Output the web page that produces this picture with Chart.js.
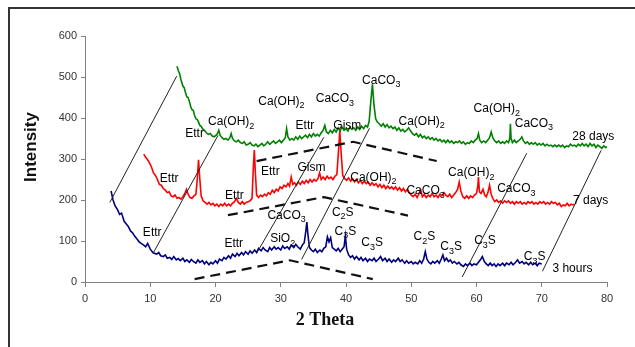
<!DOCTYPE html>
<html>
<head>
<meta charset="utf-8">
<script src="https://cdn.jsdelivr.net/npm/chart.js@4/dist/chart.umd.min.js"></script>
<style>
    html, body { margin: 0; padding: 0; background: #fff; }
    #wrap { position: relative; width: 635px; height: 347px; }
</style>
</head>
<body>
<div id="wrap"><canvas id="xrd" width="635" height="347"></canvas></div>
<script>
// Ось X (2 Theta) и ось Y (Intensity)
const xTicks = [0, 10, 20, 30, 40, 50, 60, 70, 80];
const yTicks = [0, 100, 200, 300, 400, 500, 600];

// Дифрактограммы: [2θ, интенсивность]
const hours3 = [
    [4,222],[4.3,200],[4.6,186],[5,176],[5.3,165],[5.6,168],[6,148],[6.3,142],[6.6,136],[7,124],[7.3,120],[7.6,112],
    [8,104],[8.3,98],[8.6,94],[9,90],[9.3,86],[9.6,94],[10,80],[10.3,74],[10.6,70],[11,68],[11.3,72],[11.6,64],
    [12,62],[12.3,66],[12.6,58],[13,60],[13.3,55],[13.6,62],[14,54],[14.3,57],[14.6,52],[15,58],[15.3,50],[15.6,54],
    [16,48],[16.3,55],[16.6,50],[17,46],[17.3,54],[17.6,48],[18,52],[18.3,44],[18.6,50],[19,42],[19.3,48],[19.6,44],
    [20,52],[20.3,46],[20.6,56],[21,52],[21.3,60],[21.6,56],[22,64],[22.3,58],[22.6,68],[23,62],[23.3,70],[23.6,64],
    [24,72],[24.3,66],[24.6,74],[25,68],[25.3,76],[25.6,70],[26,78],[26.3,72],[26.6,82],[27,76],[27.3,84],[27.6,78],
    [28,74],[28.3,84],[28.6,78],[29,86],[29.3,80],[29.6,84],[30,78],[30.3,88],[30.6,82],[31,86],[31.3,80],[31.6,90],
    [32,84],[32.3,92],[32.6,86],[33,80],[33.3,90],[33.6,96],[33.85,125],[34,146],[34.15,118],[34.4,84],[34.7,78],
    [35,74],[35.3,80],[35.6,72],[36,78],[36.3,74],[36.6,82],[36.9,86],[37.15,110],[37.4,98],[37.65,108],[37.9,84],
    [38.2,80],[38.5,76],[38.8,82],[39.1,74],[39.4,80],[39.7,86],[39.9,112],[40.1,80],[40.4,66],[40.7,60],[41,64],
    [41.3,56],[41.6,62],[42,54],[42.3,60],[42.6,52],[43,58],[43.3,50],[43.6,56],[44,52],[44.3,58],[44.6,50],[45,56],
    [45.3,62],[45.6,52],[46,58],[46.3,50],[46.6,56],[47,48],[47.3,54],[47.6,50],[48,58],[48.3,50],[48.6,54],[49,46],
    [49.3,52],[49.6,46],[50,50],[50.3,44],[50.6,48],[51,44],[51.3,52],[51.6,46],[51.9,56],[52.15,74],[52.4,56],
    [52.7,48],[53,44],[53.3,50],[53.6,46],[54,52],[54.3,46],[54.6,56],[54.85,66],[55.1,52],[55.4,58],[55.7,50],
    [56,54],[56.3,46],[56.6,50],[57,44],[57.3,48],[57.6,42],[58,38],[58.3,44],[58.6,40],[59,46],[59.3,40],[59.6,44],
    [60,42],[60.3,48],[60.6,54],[60.9,62],[61.2,50],[61.5,44],[61.8,40],[62.1,46],[62.4,40],[62.7,44],[63,38],
    [63.3,44],[63.6,40],[64,46],[64.3,40],[64.6,46],[65,42],[65.3,48],[65.6,42],[66,48],[66.3,54],[66.6,46],[67,50],
    [67.3,44],[67.6,48],[68,42],[68.3,48],[68.6,42],[69,46],[69.3,40],[69.6,46],[70,44]
];
const days7 = [
    [9,312],[9.3,304],[9.6,298],[9.9,290],[10.2,280],[10.5,266],[10.8,260],[11.1,250],[11.4,238],[11.7,236],[12,228],
    [12.3,224],[12.6,218],[12.9,220],[13.2,210],[13.5,208],[13.8,212],[14.1,204],[14.4,206],[14.7,202],[15,208],
    [15.3,216],[15.55,226],[15.8,214],[16.1,206],[16.4,204],[16.7,210],[17,214],[17.2,250],[17.4,298],[17.6,250],
    [17.8,210],[18.1,198],[18.4,194],[18.7,190],[19,194],[19.3,188],[19.6,192],[19.9,186],[20.2,190],[20.5,184],
    [20.8,190],[21.1,186],[21.4,192],[21.7,186],[22,190],[22.3,186],[22.6,192],[22.9,196],[23.2,204],[23.5,194],
    [23.8,190],[24.1,196],[24.4,190],[24.7,194],[25,196],[25.3,198],[25.6,204],[25.8,280],[25.95,322],[26.1,270],
    [26.3,212],[26.6,206],[26.9,212],[27.2,208],[27.5,214],[27.8,210],[28.1,218],[28.4,214],[28.7,224],[29,218],
    [29.3,226],[29.6,222],[29.9,232],[30.2,228],[30.5,236],[30.8,232],[31.1,240],[31.35,234],[31.6,256],[31.85,238],
    [32.1,242],[32.4,236],[32.7,244],[33,238],[33.3,246],[33.6,240],[33.9,248],[34.2,242],[34.5,250],[34.8,244],
    [35.1,250],[35.4,246],[35.7,252],[35.95,266],[36.2,250],[36.5,256],[36.8,250],[37.1,258],[37.4,252],[37.7,256],
    [38,250],[38.3,258],[38.6,262],[38.85,320],[39.05,368],[39.25,316],[39.5,260],[39.8,252],[40.1,248],[40.4,254],
    [40.7,246],[41,252],[41.3,244],[41.6,250],[41.9,242],[42.2,248],[42.5,240],[42.8,246],[43.1,240],[43.4,244],
    [43.7,236],[44,242],[44.3,236],[44.6,240],[44.9,232],[45.2,238],[45.5,230],[45.8,236],[46.1,228],[46.4,234],
    [46.7,228],[47,232],[47.3,226],[47.6,232],[47.9,224],[48.2,230],[48.5,222],[48.8,228],[49.1,220],[49.4,226],
    [49.7,218],[50,212],[50.3,208],[50.6,214],[50.9,206],[51.2,216],[51.45,224],[51.7,208],[52,214],[52.3,206],
    [52.6,212],[52.9,208],[53.2,216],[53.5,208],[53.8,212],[54.1,206],[54.4,214],[54.7,210],[55,218],[55.3,212],
    [55.6,208],[55.9,214],[56.2,206],[56.5,212],[56.8,218],[57.1,226],[57.35,244],[57.6,222],[57.9,208],[58.2,204],
    [58.5,210],[58.8,204],[59.1,210],[59.4,206],[59.7,212],[60,216],[60.2,234],[60.3,256],[60.45,220],[60.7,216],
    [61,226],[61.25,212],[61.5,208],[61.75,218],[62,236],[62.25,214],[62.5,204],[62.8,196],[63.1,200],[63.4,194],
    [63.7,198],[64,192],[64.3,198],[64.6,194],[64.9,198],[65.2,192],[65.5,196],[65.8,190],[66.1,196],[66.4,192],
    [66.7,196],[67,190],[67.3,194],[67.6,190],[67.9,196],[68.2,192],[68.5,196],[68.8,190],[69.1,194],[69.4,190],
    [69.7,196],[70,192],[70.3,196],[70.6,190],[70.9,194],[71.2,190],[71.5,196],[71.8,192],[72.1,194],[72.4,188],
    [72.7,192],[73,184],[73.3,188],[73.6,186],[73.9,192],[74.2,186],[74.5,190],[74.8,188],[75,190]
];
const days28 = [
    [14.1,526],[14.3,516],[14.5,508],[14.7,494],[15,478],[15.2,474],[15.4,462],[15.6,452],[15.8,450],[16,440],
    [16.2,428],[16.4,420],[16.6,418],[16.8,406],[17,398],[17.2,396],[17.4,390],[17.6,382],[17.8,380],[18,374],
    [18.3,370],[18.6,364],[18.9,360],[19.2,362],[19.5,356],[19.8,354],[20.1,358],[20.3,362],[20.5,370],[20.7,358],
    [21,352],[21.3,348],[21.6,350],[21.9,346],[22.2,352],[22.4,362],[22.6,350],[22.9,344],[23.2,342],[23.5,346],
    [23.8,340],[24.1,338],[24.4,342],[24.7,334],[25,336],[25.3,340],[25.6,334],[25.9,332],[26.2,336],[26.5,330],
    [26.8,334],[27.1,338],[27.4,332],[27.7,336],[28,342],[28.3,336],[28.6,340],[28.9,344],[29.2,338],[29.5,342],
    [29.8,346],[30.1,340],[30.4,346],[30.7,352],[30.9,374],[31.1,354],[31.4,346],[31.7,350],[32,346],[32.3,354],
    [32.6,348],[32.9,356],[33.2,350],[33.5,354],[33.8,358],[34.1,352],[34.4,360],[34.7,354],[35,362],[35.3,356],
    [35.6,360],[35.9,356],[36.2,364],[36.5,370],[36.75,382],[37,366],[37.3,362],[37.6,370],[37.9,364],[38.2,372],
    [38.5,366],[38.8,376],[39.1,368],[39.4,378],[39.7,370],[40,374],[40.3,368],[40.6,378],[40.9,372],[41.2,376],
    [41.5,370],[41.8,378],[42.1,372],[42.4,380],[42.7,374],[43,382],[43.3,378],[43.55,392],[43.8,440],[44.05,482],
    [44.3,430],[44.55,398],[44.8,390],[45.1,386],[45.4,380],[45.7,386],[46,378],[46.3,384],[46.6,376],[46.9,380],
    [47.2,374],[47.5,378],[47.8,370],[48.1,376],[48.4,368],[48.7,372],[49,366],[49.3,370],[49.6,376],[49.9,368],
    [50.2,362],[50.5,358],[50.8,362],[51.1,354],[51.4,360],[51.7,352],[52,356],[52.3,350],[52.6,354],[52.9,348],
    [53.2,352],[53.5,346],[53.8,350],[54.1,344],[54.4,348],[54.7,342],[55,346],[55.3,340],[55.6,346],[55.9,340],
    [56.2,344],[56.5,338],[56.8,342],[57.1,340],[57.4,344],[57.7,338],[58,342],[58.3,336],[58.6,340],[58.9,338],
    [59.2,344],[59.5,340],[59.8,346],[60.1,350],[60.3,362],[60.5,346],[60.8,340],[61.1,344],[61.4,340],[61.7,346],
    [62,352],[62.25,366],[62.5,352],[62.8,344],[63.1,340],[63.4,344],[63.7,338],[64,342],[64.3,338],[64.6,344],
    [64.9,340],[65.1,350],[65.2,386],[65.3,350],[65.5,340],[65.8,346],[66.1,340],[66.4,344],[66.7,348],[66.95,354],
    [67.2,344],[67.5,338],[67.8,342],[68.1,336],[68.4,340],[68.7,336],[69,340],[69.3,334],[69.6,338],[69.9,334],
    [70.2,338],[70.5,332],[70.8,336],[71.1,332],[71.4,334],[71.7,330],[72,334],[72.3,330],[72.6,334],[72.9,330],
    [73.2,334],[73.5,328],[73.8,332],[74.1,330],[74.4,336],[74.7,332],[75,334],[75.3,330],[75.6,336],[75.9,332],
    [76.2,338],[76.5,332],[76.8,336],[77.1,330],[77.4,338],[77.7,332],[78,336],[78.3,328],[78.6,334],[78.9,330],
    [79.2,326],[79.5,332],[79.8,328],[80,330]
];

// Тонкие наклонные линии, связывающие пики разных сроков (в координатах данных)
const guideLines = [
    [[3.8, 194], [14.05, 502]],
    [[10.4, 69], [20.4, 358]],
    [[26.3, 70], [36.6, 353]],
    [[33.2, 55], [43.6, 375]],
    [[57.8, 12], [67.7, 314]],
    [[70.1, 26], [79.1, 321]]
];
// Пунктирные «крыши» под каждой кривой
const dashLines = [
    [[16.8, 7], [31.4, 53], [44.1, 7]],
    [[21.9, 163], [36.6, 207], [49.5, 162]],
    [[26.3, 295], [41.1, 342], [53.9, 295]]
];

// Подписи фаз: текст ('_' = нижний индекс), 2θ, интенсивность (центр подписи)
const phaseText = [
    'Ettr', 'Ca(OH)_2', 'Ca(OH)_2', 'Ettr', 'CaCO_3', 'Gism', 'CaCO_3', 'Ca(OH)_2', 'Ca(OH)_2', 'CaCO_3', '28 days',
    'Ettr', 'Ettr', 'Ettr', 'Gism', 'Ca(OH)_2', 'CaCO_3', 'Ca(OH)_2', 'CaCO_3', '7 days',
    'Ettr', 'Ettr', 'CaCO_3', 'SiO_2', 'C_2S', 'C_3S', 'C_3S', 'C_2S', 'C_3S', 'C_3S', 'C_3S', '3 hours'
];
const phaseX = [
    16.8, 22.4, 30.1, 33.7, 38.3, 40.2, 45.4, 51.6, 63.1, 68.8, 77.9,
    12.9, 22.9, 28.4, 34.7, 44.2, 52.2, 59.2, 66.1, 77.5,
    10.3, 22.8, 30.9, 30.3, 39.5, 39.9, 44.0, 52.0, 56.1, 61.3, 68.9, 74.7
];
const phaseY = [
    364, 393, 443, 384, 449, 384, 494, 394, 425, 389, 356,
    255, 213, 272, 282, 258, 224, 269, 230, 201,
    122, 96, 165, 108, 172, 126, 98, 112, 88, 102, 63, 36
];

function toPoints(rows) {
    return rows.map((r) => ({ x: r[0], y: r[1] }));
}

function drawChem(ctx, label, cx, cy) {
    const parts = [];
    for (let i = 0; i < label.length; i++) {
        if (label[i] === '_') { parts.push({ t: label[i + 1], sub: true }); i++; }
        else parts.push({ t: label[i], sub: false });
    }
    const mainFont = '12px "Liberation Sans", Arial, sans-serif';
    const subFont = '9px "Liberation Sans", Arial, sans-serif';
    let total = 0;
    parts.forEach((p) => {
        ctx.font = p.sub ? subFont : mainFont;
        p.w = ctx.measureText(p.t).width;
        total += p.w;
    });
    let x = cx - total / 2;
    const base = cy + 4.3;
    ctx.textAlign = 'left';
    ctx.textBaseline = 'alphabetic';
    parts.forEach((p) => {
        ctx.font = p.sub ? subFont : mainFont;
        ctx.fillText(p.t, x, p.sub ? base + 3.5 : base);
        x += p.w;
    });
}

const annotations = {
    id: 'annotations',
    afterDatasetsDraw(chart) {
        const ctx = chart.ctx;
        const xs = chart.scales.x, ys = chart.scales.y;
        ctx.save();
        ctx.fillStyle = '#000';
        phaseText.forEach((t, i) => {
            drawChem(ctx, t, xs.getPixelForValue(phaseX[i]), ys.getPixelForValue(phaseY[i]));
        });
        ctx.restore();
    },
    afterDraw(chart) {
        const ctx = chart.ctx;
        ctx.save();
        // рамка рисунка
        ctx.strokeStyle = '#333';
        ctx.lineWidth = 2;
        ctx.beginPath();
        ctx.moveTo(9, 347);
        ctx.lineTo(9, 8);
        ctx.lineTo(635, 8);
        ctx.stroke();
        // подписи осей
        ctx.fillStyle = '#111';
        ctx.textAlign = 'center';
        ctx.textBaseline = 'middle';
        ctx.font = 'bold 18px "Liberation Serif", "Times New Roman", serif';
        ctx.fillText('2 Theta', 325, 320);
        ctx.translate(31, 147);
        ctx.rotate(-Math.PI / 2);
        ctx.font = 'bold 17px "Liberation Sans", Arial, sans-serif';
        ctx.fillText('Intensity', 0, 0);
        ctx.restore();
    }
};

const datasets = [
    { data: toPoints(hours3), borderColor: '#00007f' },
    { data: toPoints(days7), borderColor: '#ff0000' },
    { data: toPoints(days28), borderColor: '#008000' }
].map((d) => Object.assign(d, { borderWidth: 1.6, pointRadius: 0, tension: 0, order: 2 }));

guideLines.forEach((seg) => {
    datasets.push({ data: toPoints(seg), borderColor: '#222', borderWidth: 1, pointRadius: 0, order: 1 });
});
dashLines.forEach((seg) => {
    datasets.push({ data: toPoints(seg), borderColor: '#111', borderWidth: 2.2, borderDash: [10, 6], pointRadius: 0, order: 1 });
});

new Chart(document.getElementById('xrd'), {
    type: 'line',
    data: { datasets },
    plugins: [annotations],
    options: {
        responsive: false,
        animation: false,
        events: [],
        layout: { padding: { top: 36, right: 28, left: 0, bottom: 0 } },
        plugins: { legend: { display: false }, tooltip: { enabled: false } },
        scales: {
            x: {
                type: 'linear',
                min: 0, max: 80,
                afterFit: (s) => { s.height = 65; },
                afterBuildTicks: (s) => { s.ticks = xTicks.map((v) => ({ value: v })); },
                grid: { drawOnChartArea: false, tickLength: 5, color: '#7f7f7f' },
                border: { color: '#7f7f7f', width: 1 },
                ticks: { color: '#333', padding: 5, font: { family: '"Liberation Sans", Arial', size: 11 } }
            },
            y: {
                type: 'linear',
                min: 0, max: 600,
                afterFit: (s) => { s.width = 85; },
                afterBuildTicks: (s) => { s.ticks = yTicks.map((v) => ({ value: v })); },
                grid: { drawOnChartArea: false, tickLength: 4, color: '#7f7f7f' },
                border: { color: '#7f7f7f', width: 1 },
                ticks: { color: '#333', padding: 4, font: { family: '"Liberation Sans", Arial', size: 11 } }
            }
        }
    }
});
</script>
</body>
</html>
